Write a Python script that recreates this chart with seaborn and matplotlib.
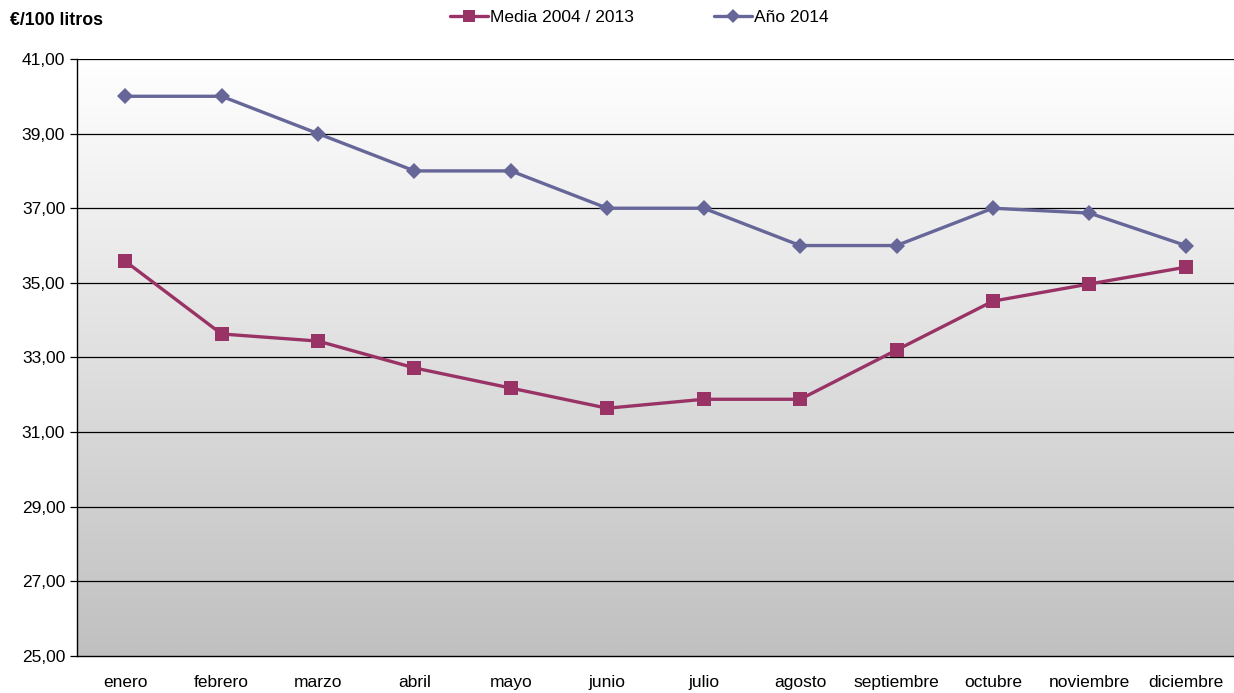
import numpy as np
import pandas as pd
import seaborn as sns
import matplotlib.pyplot as plt
from matplotlib.colors import LinearSegmentedColormap
from matplotlib.ticker import FixedLocator, FuncFormatter

meses = ['enero', 'febrero', 'marzo', 'abril', 'mayo', 'junio', 'julio',
         'agosto', 'septiembre', 'octubre', 'noviembre', 'diciembre']
media_2004_2013 = [35.58, 33.63, 33.44, 32.72, 32.18, 31.64, 31.88,
                   31.88, 33.20, 34.51, 34.97, 35.42]
ano_2014 = [40.0, 40.0, 39.0, 38.0, 38.0, 37.0, 37.0,
            36.0, 36.0, 37.0, 36.87, 36.0]
serie_names = ['Media 2004 / 2013', 'Año 2014']
y_ticks = [25, 27, 29, 31, 33, 35, 37, 39, 41]

sns.set_style('white', rc={'text.color': 'black', 'xtick.color': 'black',
                           'ytick.color': 'black', 'axes.labelcolor': 'black'})
plt.rcParams['font.family'] = ['Liberation Sans', 'DejaVu Sans']

df = pd.DataFrame({
    'pos': list(range(len(meses))) * 2,
    'valor': media_2004_2013 + ano_2014,
    'serie': [serie_names[0]] * len(meses) + [serie_names[1]] * len(meses),
})

fig = plt.figure(figsize=(12.34, 6.93), dpi=100)
ax = fig.add_axes([0.0624, 0.0534, 0.9376, 0.8615])

# fondo degradado blanco (arriba) -> gris (abajo)
grad = np.linspace(0, 1, 256).reshape(-1, 1)
cmap_bg = LinearSegmentedColormap.from_list('g', ['#ffffff', '#c0c0c0'])
ax.imshow(grad, aspect='auto', cmap=cmap_bg, origin='upper',
          extent=[-0.5, 11.5, 25, 41], zorder=0)

for yv in y_ticks[1:]:
    ax.axhline(yv, color='black', lw=0.9, zorder=1)

sns.lineplot(data=df, x='pos', y='valor', hue='serie', style='serie',
             palette={serie_names[0]: '#993366', serie_names[1]: '#666699'},
             markers={serie_names[0]: 's', serie_names[1]: 'D'},
             dashes=False, linewidth=2.4, markersize=10,
             markeredgewidth=0, ax=ax, zorder=3, legend=False)
# rombos un poco mas pequenos
ax.lines[-1].set_markersize(8.5)

ax.set_xlim(-0.5, 11.5)
ax.set_ylim(25, 41)
ax.set_xticks(range(len(meses)))
ax.set_xticklabels(meses, fontsize=12.5)
ax.xaxis.set_minor_locator(FixedLocator(np.arange(-0.5, 11.6, 1)))
ax.tick_params(axis='x', which='major', length=0, pad=14)
ax.tick_params(axis='x', which='minor', length=5, width=0.9, color='black', direction='out')
ax.set_yticks(y_ticks)
ax.yaxis.set_major_formatter(FuncFormatter(lambda v, p: f'{v:.2f}'.replace('.', ',')))
ax.tick_params(axis='y', length=5, width=0.9, color='black', direction='out', labelsize=12.5, left=True)
ax.set_xlabel('')
ax.set_ylabel('')

for s in ['top', 'right']:
    ax.spines[s].set_visible(False)
for s in ['left', 'bottom']:
    ax.spines[s].set_color('black')
    ax.spines[s].set_linewidth(1.0)

fig.text(0.008, 0.971, '€/100 litros', fontsize=12.8, fontweight='bold', va='center', color='black')

handles = [plt.Line2D([], [], color='#993366', lw=2.4, marker='s', markersize=9, markeredgewidth=0),
           plt.Line2D([], [], color='#666699', lw=2.4, marker='D', markersize=7.5, markeredgewidth=0)]
fig.legend(handles, serie_names, loc='center', bbox_to_anchor=(0.518, 0.975), ncol=2,
           frameon=False, fontsize=12.5, handlelength=2.2, handletextpad=0.1, columnspacing=4.6,
           labelcolor='black')

fig.savefig('out.png', dpi=100)
